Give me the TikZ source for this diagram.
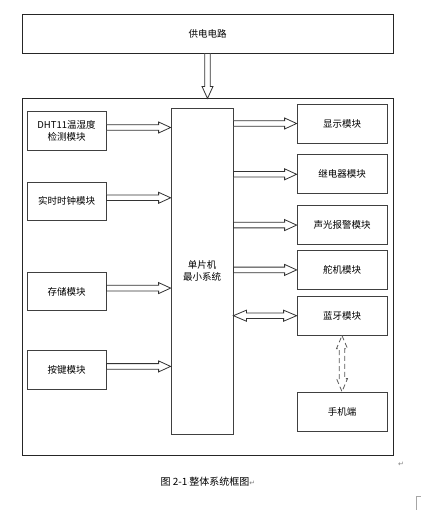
\documentclass[tikz,border=0pt]{standalone}
\usepackage{fontspec}
\newfontfamily\cjk{Noto Sans CJK SC}
\newfontfamily\symb{DejaVu Sans}
\usetikzlibrary{positioning, calc}

\tikzset{
  frame/.style={draw=black!85, line width=0.9pt, inner sep=1pt,
    font=\fontsize{9.5}{12}\selectfont\cjk, align=center},
  module/.style={frame, draw=black!75, line width=0.8pt,
    minimum width=90pt, minimum height=39pt},
  leftmod/.style={module, minimum width=79pt, minimum height=38.5pt},
  hollow/.style={draw=black!80, line width=0.8pt, fill=white, line join=miter},
}

% hollow block arrow from #2 to #3
\newcommand\hollowarrow[3][]{%
  \coordinate (ha-s) at #2; \coordinate (ha-e) at #3;
  \coordinate (ha-b) at ($(ha-e)!12pt!(ha-s)$);
  \draw[hollow,#1] ($(ha-s)!2.8pt!90:(ha-e)$) -- ($(ha-b)!2.8pt!90:(ha-e)$)
    -- ($(ha-b)!5.5pt!90:(ha-e)$) -- (ha-e) -- ($(ha-b)!5.5pt!-90:(ha-e)$)
    -- ($(ha-b)!2.8pt!-90:(ha-e)$) -- ($(ha-s)!2.8pt!-90:(ha-e)$) -- cycle;}
% hollow block arrow with two heads
\newcommand\hollowdarrow[3][]{%
  \coordinate (ha-s) at #2; \coordinate (ha-e) at #3;
  \coordinate (ha-a) at ($(ha-s)!13pt!(ha-e)$);
  \coordinate (ha-b) at ($(ha-e)!13pt!(ha-s)$);
  \draw[hollow,#1] (ha-s) -- ($(ha-a)!5.5pt!90:(ha-e)$) -- ($(ha-a)!2.8pt!90:(ha-e)$)
    -- ($(ha-b)!2.8pt!90:(ha-e)$) -- ($(ha-b)!5.5pt!90:(ha-e)$) -- (ha-e)
    -- ($(ha-b)!5.5pt!-90:(ha-e)$) -- ($(ha-b)!2.8pt!-90:(ha-e)$)
    -- ($(ha-a)!2.8pt!-90:(ha-e)$) -- ($(ha-a)!5.5pt!-90:(ha-e)$) -- cycle;}

\begin{document}
\begin{tikzpicture}[x=1pt, y=-1pt]
  \useasboundingbox (0,0) rectangle (421,510);

  \node[frame, minimum width=371pt, minimum height=39pt] (power)
    at (207.5,33.5) {供电电路};
  \node[frame, minimum width=371pt, minimum height=357pt,
        below=45pt of power] (board) {};

  \node[module, minimum width=62pt, minimum height=326pt] (mcu)
    at (202,271) {单片机\\最小系统};

  % inputs
  \node[leftmod] (dht) at (66.5,131) {DHT11温湿度\\检测模块};
  \node[leftmod, below=31pt of dht] (rtc) {实时时钟模块};
  \node[leftmod, below=51pt of rtc] (store) {存储模块};
  \node[leftmod, below=39pt of store] (keys) {按键模块};

  % outputs
  \node[module] (disp) at (342,123.5) {显示模块};
  \node[module, below=11pt of disp] (relay) {继电器模块};
  \node[module, below=11pt of relay] (alarm) {声光报警模块};
  \node[module, below=5pt of alarm] (servo) {舵机模块};
  \node[module, below=6pt of servo] (bt) {蓝牙模块};
  \node[module, below=56pt of bt] (phone) {手机端};

  \hollowarrow{(power.south)}{(board.north)}
  \foreach \m in {dht, rtc, store, keys}{
    \hollowarrow{([yshift=3.5pt]\m.east)}{([yshift=3.5pt]\m.east -| mcu.west)}
  }
  \foreach \m in {disp, relay, alarm, servo}{
    \hollowarrow{(\m.west -| mcu.east)}{(\m.west)}
  }
  \hollowdarrow{(bt.west -| mcu.east)}{(bt.west)}
  \hollowdarrow[draw=black!65, dash pattern=on 5pt off 3pt]{(bt.south)}{(phone.north)}

  \node[anchor=west, font=\fontsize{10}{12}\selectfont\cjk] (caption)
    at (157,482) {图 2-1{\color{black!50}\symb\fontsize{6}{8}\selectfont·}整体系统框图{\color{black!50}\symb\fontsize{7}{8}\selectfont ↵}};
  \node[font=\fontsize{7}{8}\selectfont\symb, text=black!50] (mark)
    at (401,464) {↵};
  \draw[black!35, line width=0.5pt] (416,510) -- (416,496) -- (421,496);
\end{tikzpicture}
\end{document}
